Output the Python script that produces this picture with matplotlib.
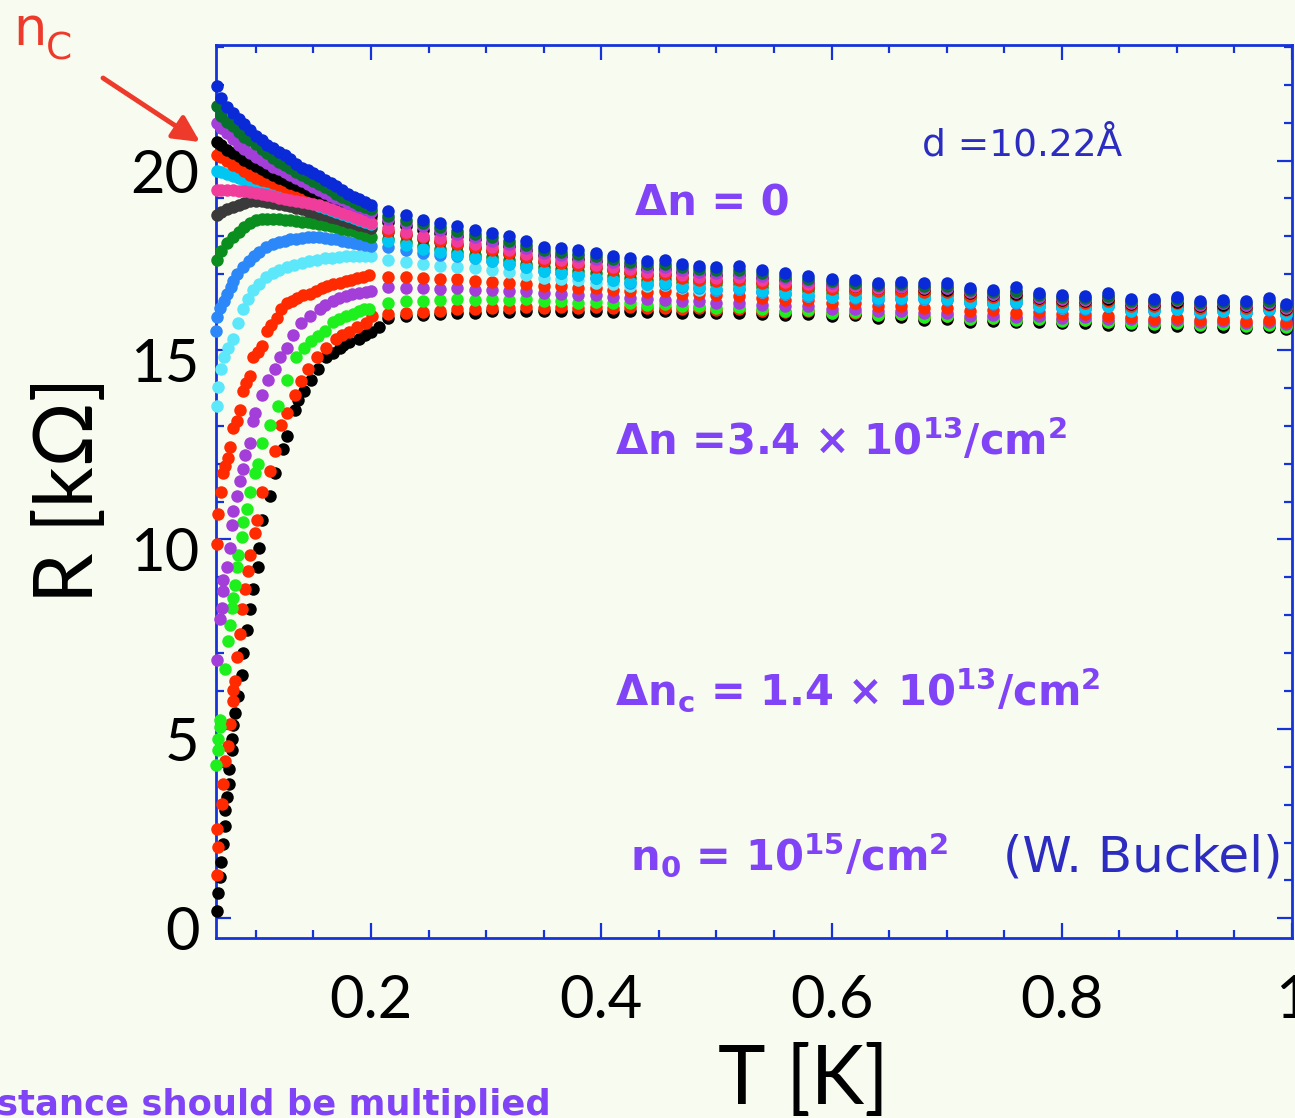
import matplotlib.pyplot as plt
from matplotlib.ticker import FixedLocator, MultipleLocator
from matplotlib.transforms import ScaledTranslation

plt.rcParams['font.family'] = ['Lato', 'DejaVu Sans']
plt.rcParams['mathtext.fontset'] = 'dejavusans'

# sampling temperatures [K]
t_lo = [0.066, 0.07, 0.075, 0.08, 0.085, 0.09, 0.095, 0.1, 0.105, 0.11, 0.115, 0.12, 0.125, 0.13,
        0.135, 0.14, 0.145, 0.15, 0.155, 0.16, 0.165, 0.17, 0.175, 0.18, 0.185, 0.19, 0.195, 0.2]
t_hi = [0.215, 0.23, 0.245, 0.26, 0.275, 0.29, 0.305, 0.32, 0.335, 0.35, 0.365, 0.38, 0.395, 0.41,
        0.425, 0.44, 0.455, 0.47, 0.485, 0.5, 0.52, 0.54, 0.56, 0.58, 0.6, 0.62, 0.64, 0.66, 0.68,
        0.7, 0.72, 0.74, 0.76, 0.78, 0.8, 0.82, 0.84, 0.86, 0.88, 0.9, 0.92, 0.94, 0.96, 0.98, 0.995]

# --- R [kOhm], insulating side (on t_lo) ---
r_lo_blue = [21.97, 21.65, 21.42, 21.26, 21.11, 20.96, 20.81, 20.65, 20.54, 20.42, 20.32, 20.22, 20.14, 20.04,
             19.91, 19.81, 19.74, 19.66, 19.58, 19.49, 19.42, 19.32, 19.22, 19.13, 19.05, 18.98, 18.9, 18.83]
r_lo_dkgreen = [21.44, 21.18, 21.03, 20.9, 20.76, 20.63, 20.54, 20.44, 20.3, 20.19, 20.07, 19.96, 19.87, 19.8,
                19.71, 19.61, 19.53, 19.45, 19.37, 19.29, 19.22, 19.12, 19.05, 18.98, 18.91, 18.84, 18.78, 18.72]
r_lo_violet3 = [20.99, 20.87, 20.73, 20.58, 20.42, 20.3, 20.19, 20.09, 20.01, 19.93, 19.84, 19.77, 19.7, 19.63,
                19.55, 19.47, 19.39, 19.31, 19.23, 19.15, 19.07, 19.02, 18.96, 18.89, 18.83, 18.77, 18.71, 18.65]
r_lo_black3 = [20.49, 20.4, 20.29, 20.19, 20.11, 20.02, 19.94, 19.86, 19.79, 19.71, 19.63, 19.55, 19.48, 19.41,
               19.35, 19.29, 19.23, 19.17, 19.12, 19.05, 18.99, 18.92, 18.86, 18.8, 18.74, 18.68, 18.62, 18.56]
r_lo_red3 = [20.14, 20.09, 19.99, 19.89, 19.82, 19.73, 19.63, 19.55, 19.5, 19.45, 19.41, 19.36, 19.31, 19.25,
             19.18, 19.11, 19.04, 18.98, 18.93, 18.88, 18.83, 18.77, 18.72, 18.68, 18.63, 18.58, 18.53, 18.48]
r_lo_sky = [19.72, 19.69, 19.65, 19.59, 19.55, 19.5, 19.45, 19.41, 19.36, 19.31, 19.25, 19.19, 19.13, 19.08,
            19.02, 18.98, 18.92, 18.87, 18.81, 18.76, 18.7, 18.65, 18.59, 18.54, 18.48, 18.43, 18.37, 18.33]
r_lo_pink = [19.23, 19.23, 19.22, 19.21, 19.2, 19.19, 19.18, 19.15, 19.12, 19.09, 19.06, 19.02, 18.99, 18.97,
             18.94, 18.91, 18.88, 18.85, 18.82, 18.77, 18.72, 18.67, 18.62, 18.57, 18.52, 18.46, 18.4, 18.34]
r_lo_gray = [18.56, 18.64, 18.71, 18.78, 18.84, 18.89, 18.92, 18.93, 18.93, 18.91, 18.89, 18.86, 18.83, 18.8,
             18.76, 18.72, 18.68, 18.64, 18.6, 18.56, 18.52, 18.48, 18.44, 18.39, 18.35, 18.31, 18.27, 18.23]
r_lo_green = [17.38, 17.62, 17.82, 17.97, 18.12, 18.24, 18.34, 18.42, 18.46, 18.47, 18.47, 18.46, 18.44, 18.43,
              18.41, 18.39, 18.37, 18.35, 18.33, 18.3, 18.27, 18.24, 18.2, 18.17, 18.13, 18.08, 18.04, 17.99]

# curves with their own low-T sampling
t_lo_azure = [0.0655, 0.066, 0.069, 0.072, 0.075, 0.078, 0.08, 0.084, 0.089, 0.094, 0.098, 0.103, 0.109, 0.115,
              0.12, 0.125, 0.13, 0.135, 0.14, 0.145, 0.15, 0.155, 0.16, 0.165, 0.17, 0.175, 0.18, 0.185, 0.19, 0.195, 0.2]
r_lo_azure = [15.5, 15.88, 16.11, 16.29, 16.47, 16.67, 16.83, 17.0, 17.18, 17.36, 17.48, 17.6, 17.73, 17.81,
              17.86, 17.89, 17.92, 17.94, 17.96, 17.97, 17.97, 17.97, 17.96, 17.94, 17.92, 17.89, 17.86, 17.83, 17.8, 17.77, 17.74]
t_lo_aqua = [0.066, 0.0675, 0.0695, 0.072, 0.0755, 0.08, 0.0845, 0.089, 0.093, 0.0975, 0.103, 0.109, 0.115, 0.12,
             0.127, 0.133, 0.14, 0.146, 0.153, 0.16, 0.166, 0.172, 0.178, 0.184, 0.19, 0.195, 0.2]
r_lo_aqua = [13.53, 14.02, 14.51, 14.81, 15.06, 15.3, 15.7, 16.09, 16.34, 16.59, 16.75, 16.93, 17.03, 17.1,
             17.18, 17.25, 17.3, 17.34, 17.38, 17.42, 17.44, 17.46, 17.47, 17.48, 17.48, 17.48, 17.48]

# superconducting side
t_lo_red2 = [0.066, 0.0674, 0.0695, 0.0715, 0.0735, 0.0758, 0.0775, 0.0801, 0.0833, 0.0862, 0.0888, 0.0918,
             0.0948, 0.0974, 0.1015, 0.1049, 0.1093, 0.113, 0.118, 0.122, 0.1266, 0.131, 0.136, 0.141, 0.1467,
             0.152, 0.157, 0.162, 0.167, 0.1727, 0.178, 0.183, 0.188, 0.193, 0.1986]
r_lo_red2 = [9.87, 10.66, 11.26, 11.75, 11.95, 12.14, 12.44, 12.93, 13.13, 13.43, 13.92, 14.12, 14.32, 14.81,
             14.96, 15.11, 15.5, 15.65, 15.85, 16.09, 16.24, 16.29, 16.37, 16.44, 16.49, 16.57, 16.64, 16.69,
             16.73, 16.78, 16.83, 16.86, 16.9, 16.93, 16.98]
t_lo_violet = [0.066, 0.0689, 0.0703, 0.071, 0.0715, 0.0747, 0.0775, 0.079, 0.0801, 0.0833, 0.0862, 0.0888,
               0.0905, 0.0948, 0.0974, 0.0991, 0.1049, 0.1106, 0.1164, 0.1207, 0.1266, 0.132, 0.1395, 0.1467,
               0.1554, 0.16, 0.1666, 0.172, 0.178, 0.1839, 0.19, 0.196, 0.2]
r_lo_violet = [6.81, 7.9, 8.19, 8.64, 8.94, 9.28, 9.77, 10.37, 10.76, 11.16, 11.55, 11.85, 12.24, 12.54, 13.13,
               13.33, 13.82, 14.22, 14.51, 14.81, 15.06, 15.4, 15.7, 15.9, 16.09, 16.19, 16.29, 16.36, 16.42,
               16.49, 16.51, 16.54, 16.57]
t_lo_lime = [0.0655, 0.0671, 0.0675, 0.0689, 0.069, 0.0732, 0.0758, 0.0775, 0.079, 0.0801, 0.0819, 0.0833,
             0.0844, 0.0876, 0.0888, 0.092, 0.0948, 0.0991, 0.1017, 0.1049, 0.1121, 0.1193, 0.1266, 0.1352,
             0.142, 0.148, 0.154, 0.1597, 0.1666, 0.172, 0.1785, 0.184, 0.19, 0.194, 0.1986]
r_lo_lime = [4.05, 4.44, 4.74, 5.04, 5.23, 6.57, 7.31, 7.75, 8.19, 8.46, 8.79, 9.28, 9.58, 10.07, 10.47, 10.81,
             11.26, 11.75, 12.0, 12.54, 13.03, 13.53, 14.22, 14.81, 15.06, 15.25, 15.38, 15.5, 15.75, 15.82,
             15.9, 15.96, 16.04, 16.07, 16.09]
t_lo_red_sc = [0.066, 0.0665, 0.067, 0.0703, 0.0715, 0.0732, 0.0758, 0.0775, 0.0801, 0.0805, 0.0819, 0.084,
               0.0862, 0.0876, 0.0905, 0.0933, 0.0948, 0.0991, 0.1006, 0.1049, 0.1121, 0.1164, 0.1222, 0.1266,
               0.1337, 0.139, 0.1452, 0.153, 0.1612, 0.1698, 0.175, 0.1813, 0.188, 0.1958, 0.2012]
r_lo_red_sc = [1.15, 2.37, 1.88, 3.03, 3.55, 4.15, 4.54, 5.13, 5.73, 6.02, 6.27, 6.91, 7.5, 8.17, 8.69, 9.18,
               9.58, 10.17, 10.51, 11.26, 11.81, 12.34, 13.03, 13.33, 13.82, 14.17, 14.51, 14.81, 15.06, 15.3,
               15.4, 15.47, 15.6, 15.7, 15.9]
t_lo_black_sc = [0.066, 0.067, 0.0689, 0.0695, 0.0717, 0.0732, 0.0735, 0.0747, 0.0765, 0.077, 0.079, 0.0795,
                 0.0801, 0.0819, 0.0844, 0.0876, 0.0888, 0.092, 0.0948, 0.0974, 0.1017, 0.1025, 0.1049, 0.1121,
                 0.1164, 0.1234, 0.1266, 0.1337, 0.137, 0.142, 0.1482, 0.154, 0.1612, 0.167, 0.1727, 0.176,
                 0.1813, 0.19, 0.195, 0.2, 0.2073]
r_lo_black_sc = [0.2, 0.67, 1.09, 1.48, 1.97, 2.44, 2.86, 3.21, 3.55, 3.95, 4.44, 4.74, 5.1, 5.43, 5.87, 6.42,
                 7.01, 7.6, 8.17, 8.69, 9.28, 9.77, 10.51, 11.16, 11.75, 12.39, 12.74, 13.43, 13.67, 13.92,
                 14.22, 14.51, 14.81, 14.93, 15.06, 15.12, 15.2, 15.3, 15.4, 15.48, 15.6]

# --- R [kOhm] above 0.2 K (on t_hi) ---
r_hi_blue = [18.66, 18.56, 18.44, 18.36, 18.26, 18.17, 18.09, 18.0, 17.87, 17.72, 17.69, 17.64, 17.55, 17.47,
             17.42, 17.35, 17.38, 17.26, 17.21, 17.18, 17.21, 17.1, 17.03, 16.96, 16.88, 16.85, 16.78, 16.8,
             16.78, 16.76, 16.64, 16.59, 16.65, 16.51, 16.46, 16.42, 16.51, 16.34, 16.35, 16.41, 16.29, 16.33,
             16.29, 16.37, 16.21]
r_hi_dkgreen = [18.54, 18.44, 18.34, 18.24, 18.14, 18.06, 17.97, 17.89, 17.77, 17.65, 17.59, 17.53, 17.47, 17.4,
                17.33, 17.28, 17.26, 17.18, 17.13, 17.1, 17.11, 17.03, 16.95, 16.88, 16.81, 16.76, 16.72, 16.73,
                16.69, 16.69, 16.59, 16.53, 16.57, 16.45, 16.41, 16.37, 16.43, 16.29, 16.29, 16.34, 16.24, 16.27,
                16.23, 16.29, 16.16]
r_hi_violet3 = [18.46, 18.36, 18.26, 18.16, 18.06, 17.98, 17.89, 17.81, 17.69, 17.57, 17.52, 17.47, 17.39, 17.33,
                17.26, 17.2, 17.18, 17.11, 17.06, 17.03, 17.04, 16.96, 16.9, 16.83, 16.78, 16.73, 16.69, 16.69,
                16.65, 16.64, 16.55, 16.49, 16.53, 16.41, 16.37, 16.34, 16.39, 16.26, 16.26, 16.31, 16.21, 16.24,
                16.19, 16.25, 16.13]
r_hi_black3 = [18.38, 18.28, 18.18, 18.09, 18.0, 17.92, 17.83, 17.75, 17.63, 17.51, 17.47, 17.41, 17.34, 17.28,
               17.21, 17.15, 17.14, 17.06, 17.01, 16.98, 16.98, 16.91, 16.84, 16.78, 16.72, 16.68, 16.64, 16.65,
               16.61, 16.59, 16.51, 16.45, 16.49, 16.37, 16.33, 16.29, 16.35, 16.22, 16.22, 16.27, 16.17, 16.2,
               16.16, 16.22, 16.09]
r_hi_pink = [18.21, 18.12, 18.02, 17.95, 17.87, 17.79, 17.71, 17.65, 17.53, 17.42, 17.37, 17.32, 17.25, 17.18,
             17.13, 17.06, 17.08, 16.98, 16.94, 16.91, 16.94, 16.85, 16.8, 16.74, 16.69, 16.69, 16.64, 16.65,
             16.64, 16.63, 16.52, 16.47, 16.53, 16.39, 16.35, 16.31, 16.39, 16.24, 16.25, 16.31, 16.19, 16.24,
             16.19, 16.27, 16.12]
r_hi_red3 = [18.14, 18.06, 17.97, 17.89, 17.8, 17.72, 17.64, 17.57, 17.45, 17.35, 17.3, 17.25, 17.18, 17.11,
             17.05, 16.98, 17.0, 16.91, 16.86, 16.83, 16.85, 16.76, 16.72, 16.66, 16.61, 16.59, 16.55, 16.55,
             16.54, 16.53, 16.43, 16.39, 16.44, 16.31, 16.27, 16.24, 16.29, 16.17, 16.17, 16.23, 16.12, 16.16,
             16.11, 16.19, 16.05]
r_hi_gray = [18.11, 18.03, 17.94, 17.85, 17.77, 17.69, 17.61, 17.54, 17.43, 17.33, 17.28, 17.23, 17.16, 17.1,
             17.04, 16.98, 16.98, 16.9, 16.86, 16.83, 16.84, 16.76, 16.7, 16.64, 16.6, 16.59, 16.54, 16.55,
             16.53, 16.52, 16.42, 16.37, 16.42, 16.29, 16.26, 16.22, 16.29, 16.15, 16.16, 16.21, 16.11, 16.14,
             16.1, 16.17, 16.04]
r_hi_green = [17.93, 17.85, 17.75, 17.67, 17.59, 17.52, 17.45, 17.38, 17.28, 17.18, 17.13, 17.08, 17.02, 16.96,
              16.91, 16.86, 16.88, 16.8, 16.76, 16.73, 16.75, 16.67, 16.62, 16.57, 16.51, 16.5, 16.45, 16.47,
              16.45, 16.44, 16.35, 16.3, 16.35, 16.23, 16.19, 16.16, 16.23, 16.09, 16.1, 16.15, 16.06, 16.09,
              16.05, 16.12, 15.99]
r_hi_sky = [17.87, 17.77, 17.67, 17.59, 17.51, 17.44, 17.36, 17.28, 17.18, 17.08, 17.03, 16.98, 16.91, 16.85,
            16.8, 16.75, 16.76, 16.68, 16.65, 16.62, 16.64, 16.56, 16.51, 16.46, 16.41, 16.41, 16.36, 16.37,
            16.36, 16.35, 16.27, 16.23, 16.27, 16.16, 16.13, 16.1, 16.17, 16.04, 16.05, 16.09, 16.01, 16.04,
            16.0, 16.07, 15.94]
r_hi_azure = [17.72, 17.65, 17.57, 17.52, 17.47, 17.42, 17.35, 17.28, 17.18, 17.08, 17.03, 16.98, 16.9, 16.84,
              16.78, 16.73, 16.75, 16.67, 16.63, 16.59, 16.61, 16.53, 16.48, 16.43, 16.39, 16.37, 16.33, 16.35,
              16.34, 16.33, 16.24, 16.21, 16.25, 16.14, 16.11, 16.09, 16.15, 16.03, 16.04, 16.07, 15.99, 16.02,
              15.99, 16.05, 15.93]
r_hi_aqua = [17.38, 17.33, 17.26, 17.23, 17.18, 17.16, 17.11, 17.06, 16.98, 16.9, 16.88, 16.84, 16.78, 16.74,
             16.7, 16.68, 16.72, 16.64, 16.59, 16.59, 16.61, 16.52, 16.47, 16.42, 16.39, 16.39, 16.34, 16.36,
             16.35, 16.34, 16.26, 16.23, 16.27, 16.15, 16.12, 16.1, 16.17, 16.05, 16.06, 16.09, 16.01, 16.04,
             16.01, 16.07, 15.96]
r_hi_red2 = [16.93, 16.93, 16.9, 16.88, 16.88, 16.83, 16.8, 16.76, 16.75, 16.7, 16.68, 16.64, 16.64, 16.59,
             16.57, 16.54, 16.55, 16.49, 16.49, 16.44, 16.43, 16.37, 16.32, 16.32, 16.25, 16.25, 16.17, 16.17,
             16.11, 16.12, 16.04, 16.05, 15.99, 16.01, 15.95, 15.96, 15.9, 15.88, 15.83, 15.85, 15.8, 15.82,
             15.77, 15.79, 15.73]
r_hi_violet = [16.65, 16.64, 16.63, 16.62, 16.63, 16.59, 16.59, 16.56, 16.56, 16.51, 16.49, 16.45, 16.45, 16.39,
               16.37, 16.34, 16.33, 16.29, 16.29, 16.24, 16.24, 16.19, 16.15, 16.15, 16.09, 16.09, 16.03, 16.03,
               15.97, 15.99, 15.91, 15.93, 15.88, 15.9, 15.85, 15.87, 15.82, 15.81, 15.77, 15.79, 15.74, 15.77,
               15.72, 15.75, 15.69]
r_hi_lime = [16.24, 16.29, 16.29, 16.31, 16.34, 16.32, 16.34, 16.31, 16.34, 16.29, 16.29, 16.25, 16.27, 16.23,
             16.23, 16.19, 16.21, 16.16, 16.17, 16.12, 16.13, 16.07, 16.03, 16.05, 15.99, 16.0, 15.93, 15.94,
             15.87, 15.89, 15.82, 15.84, 15.79, 15.82, 15.76, 15.78, 15.73, 15.72, 15.68, 15.7, 15.66, 15.68,
             15.64, 15.66, 15.61]
r_hi_red_sc = [15.94, 15.99, 16.01, 16.04, 16.09, 16.09, 16.12, 16.11, 16.14, 16.12, 16.13, 16.11, 16.14, 16.11,
               16.13, 16.1, 16.11, 16.08, 16.1, 16.06, 16.08, 16.03, 16.0, 16.03, 15.98, 15.99, 15.93, 15.94,
               15.88, 15.9, 15.83, 15.85, 15.81, 15.83, 15.78, 15.8, 15.75, 15.74, 15.7, 15.72, 15.68, 15.7,
               15.66, 15.68, 15.63]
r_hi_black_sc = [15.85, 15.9, 15.92, 15.94, 15.99, 15.99, 16.02, 16.01, 16.04, 16.02, 16.03, 16.01, 16.04, 16.01,
                 16.03, 16.01, 16.02, 15.99, 16.01, 15.97, 15.99, 15.94, 15.92, 15.94, 15.9, 15.92, 15.85, 15.86,
                 15.8, 15.82, 15.75, 15.77, 15.73, 15.75, 15.7, 15.72, 15.67, 15.66, 15.62, 15.64, 15.6, 15.62,
                 15.58, 15.6, 15.55]

W, H = 1295, 1118
BG = '#F8FCF0'
BLUE = '#1633DA'
PURPLE = '#8044F6'
NAVY = '#2C2CC0'
RED = '#EE3A2A'

fig = plt.figure(figsize=(W / 100, H / 100), dpi=100, facecolor=BG)
ax = fig.add_axes([216.4 / W, 1 - 937.7 / H, (1292 - 216.4) / W, (937.7 - 45) / H])
ax.set_facecolor(BG)

# drawn bottom to top
series = [
    (t_lo_black_sc, r_lo_black_sc, r_hi_black_sc, '#000000'),
    (t_lo_red_sc, r_lo_red_sc, r_hi_red_sc, '#FF2A00'),
    (t_lo_lime, r_lo_lime, r_hi_lime, '#1EF01E'),
    (t_lo_violet, r_lo_violet, r_hi_violet, '#A43ED8'),
    (t_lo_red2, r_lo_red2, r_hi_red2, '#FF2A00'),
    (t_lo_aqua, r_lo_aqua, r_hi_aqua, '#5CE8FA'),
    (t_lo_azure, r_lo_azure, r_hi_azure, '#2C88F8'),
    (t_lo, r_lo_green, r_hi_green, '#0A8E1E'),
    (t_lo, r_lo_gray, r_hi_gray, '#3A3A3A'),
    (t_lo, r_lo_sky, r_hi_sky, '#00C6F2'),
    (t_lo, r_lo_red3, r_hi_red3, '#FF2A00'),
    (t_lo, r_lo_black3, r_hi_black3, '#000000'),
    (t_lo, r_lo_pink, r_hi_pink, '#F03C9A'),
    (t_lo, r_lo_violet3, r_hi_violet3, '#A43ED8'),
    (t_lo, r_lo_dkgreen, r_hi_dkgreen, '#06702C'),
    (t_lo, r_lo_blue, r_hi_blue, '#0A2AD8'),
]
for tl, rl, rh, c in series:
    ax.plot(tl + t_hi, rl + rh, 'o', ms=9, mew=0, color=c, clip_on=False, zorder=3)

ax.set_xlim(0.0657, 1.0)
ax.set_ylim(-0.51, 23.05)
ax.xaxis.set_major_locator(FixedLocator([0.2, 0.4, 0.6, 0.8, 1.0]))
ax.set_xticklabels(['0.2', '0.4', '0.6', '0.8', '1'])
ax.xaxis.set_minor_locator(MultipleLocator(0.05))
ax.yaxis.set_major_locator(MultipleLocator(5))
ax.yaxis.set_minor_locator(MultipleLocator(1))
ax.tick_params(which='both', direction='in', top=True, right=True, color=BLUE, width=1.6)
ax.tick_params(which='major', length=11)
ax.tick_params(which='minor', length=6)
ax.tick_params(axis='x', which='major', labelsize=43, pad=26)
ax.tick_params(axis='y', which='major', labelsize=43, pad=12)
for lab in ax.get_yticklabels():
    lab.set_transform(lab.get_transform() + ScaledTranslation(0, -0.1, fig.dpi_scale_trans))
for sp in ax.spines.values():
    sp.set_color(BLUE)
    sp.set_linewidth(2)

# axis titles
fig.text(70 / W, 1 - 490 / H, 'R [kΩ]', rotation=90, ha='center', va='center', fontsize=58)
fig.text(803 / W, 1 - 1081 / H, 'T [K]', ha='center', va='center', fontsize=58)

# annotations
bold = dict(family='DejaVu Sans', weight='bold', color=PURPLE, fontsize=30)
fig.text(712 / W, 1 - 203 / H, 'Δn = 0', ha='center', va='center', **bold)
fig.text(615 / W, 1 - 441 / H, r'Δn =3.4 × 10$^{\mathbf{13}}$/cm$^{\mathbf{2}}$',
         ha='left', va='center', **bold)
fig.text(615 / W, 1 - 690 / H, r'$\mathbf{\Delta n_c}$ = 1.4 × 10$^{\mathbf{13}}$/cm$^{\mathbf{2}}$',
         ha='left', va='center', **bold)
fig.text(630 / W, 1 - 855 / H, r'$\mathbf{n_0}$ = 10$^{\mathbf{15}}$/cm$^{\mathbf{2}}$',
         ha='left', va='center', **bold)
fig.text(1003 / W, 1 - 858 / H, '(W. Buckel)', ha='left', va='center',
         family='DejaVu Sans', color=NAVY, fontsize=36)
fig.text(922 / W, 1 - 146 / H, 'd =10.22Å', ha='left', va='center',
         family='DejaVu Sans', color=NAVY, fontsize=27)
fig.text(-3 / W, 3 / H, 'stance should be multiplied', ha='left', va='baseline',
         family='DejaVu Sans', weight='bold', color=PURPLE, fontsize=25.5)

# n_C marker with arrow
fig.text(13 / W, 1 - 45 / H, 'n', ha='left', va='baseline', family='DejaVu Sans', color=RED, fontsize=38)
fig.text(46 / W, 1 - 60 / H, 'C', ha='left', va='baseline', family='DejaVu Sans', color=RED, fontsize=27)
ax.annotate('', xy=(200, H - 142), xycoords='figure pixels', xytext=(103, H - 78), textcoords='figure pixels',
            arrowprops=dict(arrowstyle='-|>', color=RED, lw=3.5, mutation_scale=40, shrinkA=0, shrinkB=0))

fig.savefig('out.png', dpi=100, facecolor=BG)
